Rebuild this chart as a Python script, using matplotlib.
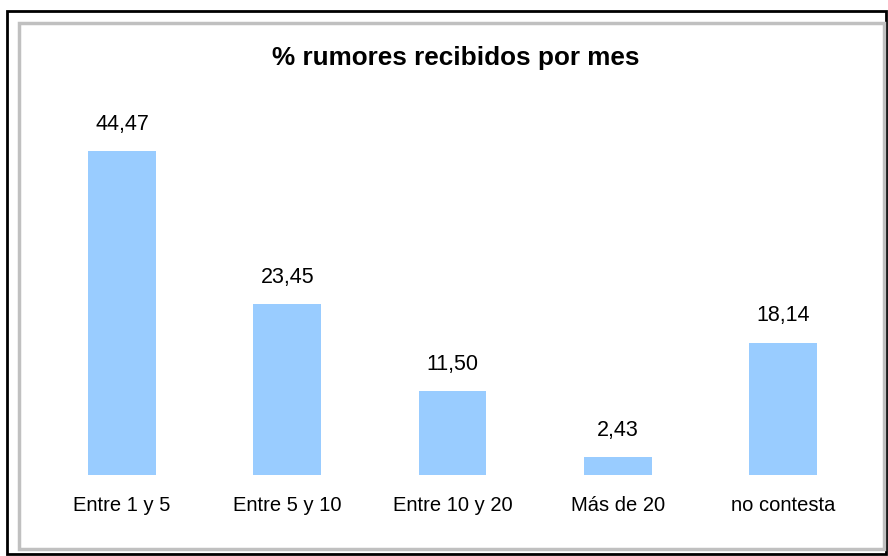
import matplotlib
matplotlib.use('Agg')
import matplotlib.pyplot as plt
from matplotlib.patches import Rectangle

categories = ['Entre 1 y 5', 'Entre 5 y 10', 'Entre 10 y 20', 'Más de 20', 'no contesta']
values = [44.47, 23.45, 11.50, 2.43, 18.14]
value_labels = ['44,47', '23,45', '11,50', '2,43', '18,14']
title = '% rumores recibidos por mes'

plt.rcParams['font.family'] = ['Liberation Sans', 'DejaVu Sans']

fig = plt.figure(figsize=(8.88, 5.56), dpi=100)

# chart frame: black outer line, grey inner border
fig.patches.append(Rectangle((7 / 888, 2 / 556), 0.99, 543 / 556, transform=fig.transFigure,
                             fill=False, edgecolor='black', linewidth=2))
fig.patches.append(Rectangle((19 / 888, 7 / 556), 865 / 888, 526 / 556, transform=fig.transFigure,
                             fill=False, edgecolor='#c0c0c0', linewidth=2.5))

ax = fig.add_axes([39.5 / 888, 81 / 556, 826 / 888, 364 / 556])
x = range(len(categories))
ax.bar(x, values, width=0.41, color='#99ccff')
for xi, v, lab in zip(x, values, value_labels):
    ax.annotate(lab, (xi, v), xytext=(0, 12), textcoords='offset points',
                ha='center', va='bottom', fontsize=15.5)

ax.set_xlim(-0.5, len(categories) - 0.5)
ax.set_ylim(0, 50)
ax.set_xticks(list(x))
ax.set_xticklabels(categories, fontsize=14.5)
ax.tick_params(axis='x', length=0, pad=15)
ax.set_yticks([])
for s in ax.spines.values():
    s.set_visible(False)

fig.text(456 / 888, 1 - 58 / 556, title, ha='center', va='center',
         fontsize=18.8, fontweight='bold')

fig.savefig('out.png', dpi=100)
